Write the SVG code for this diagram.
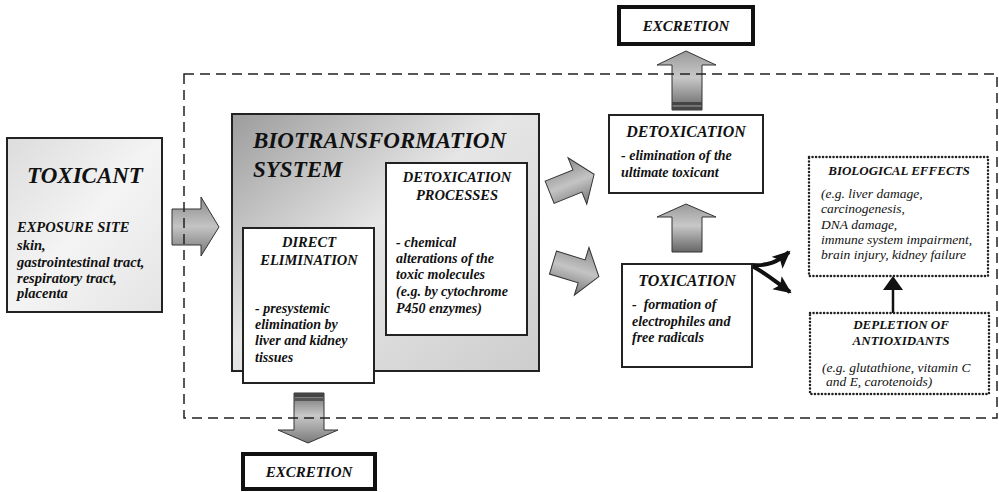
<svg xmlns="http://www.w3.org/2000/svg" width="999" height="492" viewBox="0 0 999 492">
<defs>
<style>
.b{font-family:"Liberation Serif","Times New Roman",serif;font-weight:bold;font-style:italic;fill:#111}
.r{font-family:"Liberation Serif","Times New Roman",serif;font-style:italic;fill:#111}
.box{fill:#fff;stroke:#222;stroke-width:2}
.dot{fill:#fff;stroke:#222;stroke-width:2.5;stroke-dasharray:0.1,3.4;stroke-linecap:round}
.exc{fill:#fff;stroke:#111;stroke-width:4}
.arr{stroke:#333;stroke-width:1}
.pre{white-space:pre}
</style>
<linearGradient id="gh" x1="0" y1="0" x2="0" y2="1">
<stop offset="0" stop-color="#8a8a8a"/><stop offset="0.5" stop-color="#c4c4c4"/><stop offset="1" stop-color="#767676"/>
</linearGradient>
<linearGradient id="gu" x1="0" y1="0" x2="0" y2="1">
<stop offset="0" stop-color="#9a9a9a"/><stop offset="0.45" stop-color="#c8c8c8"/><stop offset="1" stop-color="#666"/>
</linearGradient>
<linearGradient id="gd" x1="0" y1="0" x2="0" y2="1">
<stop offset="0" stop-color="#707070"/><stop offset="0.45" stop-color="#c8c8c8"/><stop offset="1" stop-color="#7a7a7a"/>
</linearGradient>
<linearGradient id="gbio" x1="0" y1="0" x2="1" y2="1">
<stop offset="0" stop-color="#9c9c9c"/><stop offset="0.45" stop-color="#e6e6e6"/><stop offset="1" stop-color="#cdcdcd"/>
</linearGradient>
<linearGradient id="gtox" x1="0" y1="0" x2="1" y2="1">
<stop offset="0" stop-color="#dcdcdc"/><stop offset="0.5" stop-color="#f4f4f4"/><stop offset="1" stop-color="#e4e4e4"/>
</linearGradient>
<marker id="mk" markerUnits="userSpaceOnUse" markerWidth="20" markerHeight="20" refX="16" refY="8" orient="auto">
<path d="M0,0 L18,8 L0,16 L4,8 z" fill="#111"/>
</marker>
</defs>
<rect width="999" height="492" fill="#fff"/>

<g id="connectors">
<path class="arr" fill="url(#gh)" d="M172,209 L201,209 L201,197 L219,227 L201,256 L201,245 L172,245 Z"/>
<path class="arr" fill="url(#gh)" transform="translate(570,184) rotate(-22)" d="M-22,-12 L8,-12 L8,-25 L26,0 L8,25 L8,12 L-22,12 Z"/>
<path class="arr" fill="url(#gh)" transform="translate(574,269) rotate(17)" d="M-22,-12 L8,-12 L8,-25 L26,0 L8,25 L8,12 L-22,12 Z"/>
<path class="arr" fill="url(#gu)" d="M672,110 L672,65 L657,65 L686,51 L716,65 L702,65 L702,110 Z"/>
<rect x="672" y="102" width="30" height="3" fill="#444"/>
<rect x="672" y="107" width="30" height="3" fill="#444"/>
<path class="arr" fill="url(#gu)" d="M672,252 L672,217 L657,217 L686,204 L716,217 L702,217 L702,252 Z"/>
<path class="arr" fill="url(#gd)" d="M294,393 L324,393 L324,430 L338,430 L308,443 L278,430 L294,430 Z"/>
<rect x="294" y="393" width="30" height="4" fill="#444"/>
<rect x="294" y="398" width="30" height="3" fill="#555"/>
<path d="M752,265 C768,266 778,262 789,252" fill="none" stroke="#111" stroke-width="4" marker-end="url(#mk)"/>
<path d="M752,266 C764,272 776,282 790,292" fill="none" stroke="#111" stroke-width="4" marker-end="url(#mk)"/>
<line x1="893" y1="313" x2="893" y2="289" stroke="#111" stroke-width="2.5"/>
<polygon points="893,276 883,290 903,290" fill="#111"/>
<rect x="184" y="74" width="813" height="344" fill="none" stroke="#222" stroke-width="1.5" stroke-dasharray="10,6"/>
</g>

<g id="toxicant">
<rect x="7" y="138" width="155" height="174" fill="url(#gtox)" stroke="#222" stroke-width="2"/>
<text class="b" x="85" y="183" font-size="23" text-anchor="middle">TOXICANT</text>
<text class="b" x="17" y="232" font-size="14.5">EXPOSURE SITE</text>
<text class="b" x="17" y="250" font-size="14.5">skin,</text>
<text class="b" x="17" y="267" font-size="14.5">gastrointestinal tract,</text>
<text class="b" x="17" y="283" font-size="14.5">respiratory tract,</text>
<text class="b" x="17" y="298" font-size="14.5">placenta</text>
</g>

<g id="biotransformation">
<rect x="232" y="114" width="307" height="257" fill="url(#gbio)" stroke="#222" stroke-width="2"/>
<text class="b" x="253" y="148" font-size="23">BIOTRANSFORMATION</text>
<text class="b" x="253" y="177" font-size="23">SYSTEM</text>
</g>

<g id="detoxication-processes">
<rect class="box" x="386" y="163" width="141" height="172"/>
<text class="b" x="457" y="182" font-size="14.5" text-anchor="middle">DETOXICATION</text>
<text class="b" x="457" y="200" font-size="14.5" text-anchor="middle">PROCESSES</text>
<text class="b" x="396" y="247" font-size="14">- chemical</text>
<text class="b" x="396" y="263" font-size="14">alterations of the</text>
<text class="b" x="396" y="279" font-size="14">toxic molecules</text>
<text class="b" x="396" y="296" font-size="14">(e.g. by cytochrome</text>
<text class="b" x="396" y="313" font-size="14">P450 enzymes)</text>
</g>

<g id="direct-elimination">
<rect class="box" x="243" y="228" width="131" height="155"/>
<text class="b" x="309" y="247" font-size="14.5" text-anchor="middle">DIRECT</text>
<text class="b" x="309" y="265" font-size="14.5" text-anchor="middle">ELIMINATION</text>
<text class="b" x="255" y="313" font-size="14">- presystemic</text>
<text class="b" x="255" y="329" font-size="14">elimination by</text>
<text class="b" x="255" y="345" font-size="14">liver and kidney</text>
<text class="b" x="255" y="362" font-size="14">tissues</text>
</g>

<g id="excretion-top">
<rect class="exc" x="619" y="7" width="134" height="37"/>
<text class="b" x="686" y="31" font-size="15" text-anchor="middle">EXCRETION</text>
</g>

<g id="excretion-bottom">
<rect class="exc" x="243" y="454" width="132" height="35"/>
<text class="b" x="309" y="477" font-size="15" text-anchor="middle">EXCRETION</text>
</g>

<g id="detoxication">
<rect class="box" x="609" y="115" width="154" height="78"/>
<text class="b" x="686" y="137" font-size="16" text-anchor="middle">DETOXICATION</text>
<text class="b" x="621" y="160" font-size="14">- elimination of the</text>
<text class="b" x="621" y="177" font-size="14">ultimate toxicant</text>
</g>

<g id="toxication">
<rect class="box" x="622" y="264" width="130" height="103"/>
<text class="b" x="687" y="286" font-size="16" text-anchor="middle">TOXICATION</text>
<text class="b pre" x="632" y="309" font-size="14">-  formation of</text>
<text class="b" x="632" y="326" font-size="14">electrophiles and</text>
<text class="b" x="632" y="342" font-size="14">free radicals</text>
</g>

<g id="biological-effects">
<rect class="dot" x="809" y="157" width="179" height="119"/>
<text class="b" x="899" y="175" font-size="13" text-anchor="middle">BIOLOGICAL EFFECTS</text>
<text class="r" x="821" y="198" font-size="13.5">(e.g. liver damage,</text>
<text class="r" x="821" y="213" font-size="13.5">carcinogenesis,</text>
<text class="r" x="821" y="229" font-size="13.5">DNA damage,</text>
<text class="r" x="821" y="244" font-size="13.5">immune system impairment,</text>
<text class="r" x="821" y="259" font-size="13.5">brain injury, kidney failure</text>
</g>

<g id="depletion-of-antioxidants">
<rect class="dot" x="810" y="313" width="179" height="81"/>
<text class="b" x="901" y="329" font-size="13" text-anchor="middle">DEPLETION OF</text>
<text class="b" x="901" y="345" font-size="13" text-anchor="middle">ANTIOXIDANTS</text>
<text class="r" x="822" y="372" font-size="13.5">(e.g. glutathione, vitamin C</text>
<text class="r" x="826" y="386" font-size="13.5">and E, carotenoids)</text>
</g>
</svg>
